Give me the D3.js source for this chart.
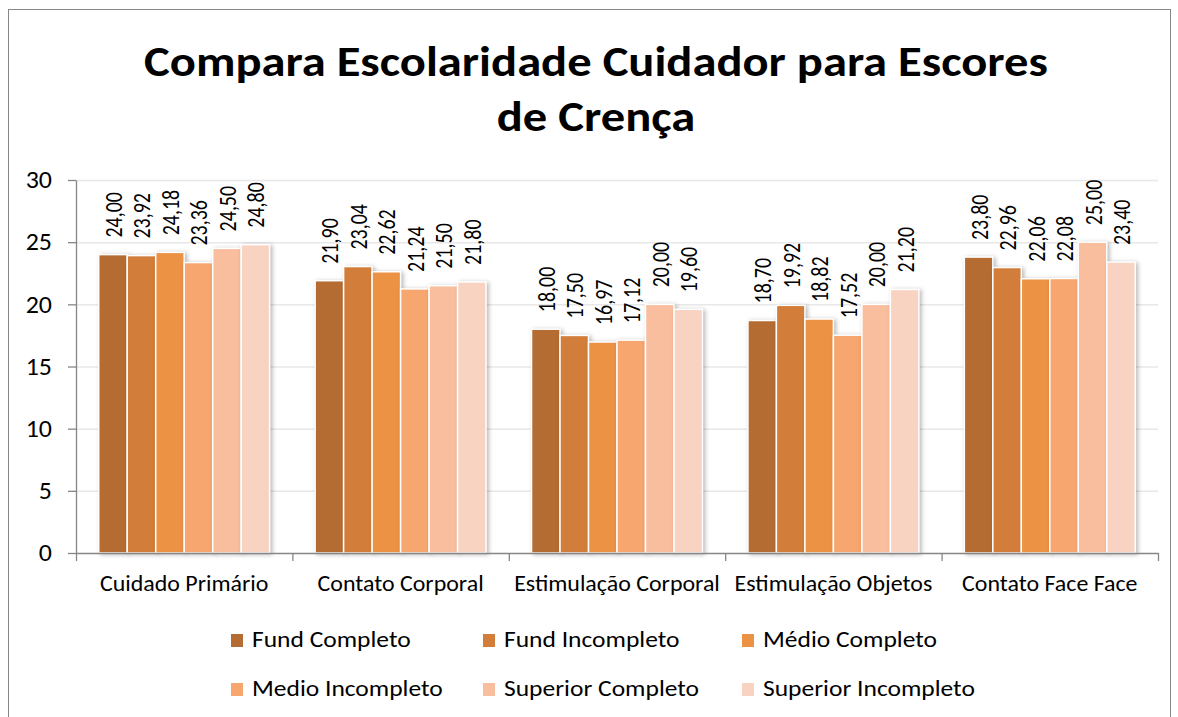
<!DOCTYPE html>
<html>
<head>
<meta charset="utf-8">
<script src="https://cdn.jsdelivr.net/npm/d3@7"></script>
<style>
  body { margin: 0; background: #fff; }
  text { font-family: Carlito, Calibri, "Open Sans", sans-serif; fill: #000; }
</style>
</head>
<body>
<div id="chart"></div>
<script>
const CATEGORIES = ["Cuidado Primário", "Contato Corporal", "Estimulação Corporal", "Estimulação Objetos", "Contato Face Face"];
const SERIES = ["Fund Completo", "Fund Incompleto", "Médio Completo", "Medio Incompleto", "Superior Completo", "Superior Incompleto"];
const FUND_COMPLETO = [24.00, 21.90, 18.00, 18.70, 23.80];
const FUND_INCOMPLETO = [23.92, 23.04, 17.50, 19.92, 22.96];
const MEDIO_COMPLETO = [24.18, 22.62, 16.97, 18.82, 22.06];
const MEDIO_INCOMPLETO = [23.36, 21.24, 17.12, 17.52, 22.08];
const SUPERIOR_COMPLETO = [24.50, 21.50, 20.00, 20.00, 25.00];
const SUPERIOR_INCOMPLETO = [24.80, 21.80, 19.60, 21.20, 23.40];
const Y_TICKS = [0, 5, 10, 15, 20, 25, 30];

const VALUES = [FUND_COMPLETO, FUND_INCOMPLETO, MEDIO_COMPLETO, MEDIO_INCOMPLETO, SUPERIOR_COMPLETO, SUPERIOR_INCOMPLETO];
const COLORS = ["#b46c32", "#d27e3a", "#ec9245", "#f6a66e", "#f8be9e", "#f9d3c1"];

const WIDTH = 1178, HEIGHT = 717;
const PLOT = { LEFT: 76, RIGHT: 1158, TOP: 180, BOTTOM: 553 };
// the reference text looks a little wider than tall
const SX = 1.16;

const SVG = d3.select("#chart").append("svg")
  .attr("width", WIDTH)
  .attr("height", HEIGHT);

// chart frame
SVG.append("rect")
  .attr("x", 8.5).attr("y", 9.5)
  .attr("width", 1162).attr("height", 720)
  .attr("fill", "#fff")
  .attr("stroke", "#868686");

// title
SVG.append("text")
  .attr("text-anchor", "middle")
  .attr("transform", "translate(596,76) scale(1.13,1)")
  .style("font-size", "43px")
  .style("font-weight", "bold")
  .text("Compara Escolaridade Cuidador para Escores");
SVG.append("text")
  .attr("text-anchor", "middle")
  .attr("transform", "translate(596,131) scale(1.13,1)")
  .style("font-size", "43px")
  .style("font-weight", "bold")
  .text("de Crença");

const X0 = d3.scaleBand().domain(CATEGORIES).range([PLOT.LEFT, PLOT.RIGHT]);
const BW = X0.bandwidth();
const X1 = d3.scaleBand().domain(SERIES).range([BW * 0.105, BW * 0.895]);
const Y = d3.scaleLinear().domain([0, 30]).range([PLOT.BOTTOM, PLOT.TOP]);

// gridlines
SVG.append("g")
  .selectAll("line")
  .data(Y_TICKS.slice(1))
  .join("line")
  .attr("x1", PLOT.LEFT).attr("x2", PLOT.RIGHT)
  .attr("y1", d => Y(d) + 0.5).attr("y2", d => Y(d) + 0.5)
  .attr("stroke", "#e8e8e8")
  .attr("stroke-width", 1.5);

// bars
const GROUPS = SVG.append("g")
  .selectAll("g")
  .data(CATEGORIES)
  .join("g")
  .attr("transform", d => "translate(" + X0(d) + ",0)");

const BAR_DATA = (c, i) => SERIES.map((s, j) => ({ series: s, value: VALUES[j][i], color: COLORS[j] }));

GROUPS.selectAll("rect")
  .data(BAR_DATA)
  .join("rect")
  .attr("x", d => X1(d.series))
  .attr("y", d => Y(d.value))
  .attr("width", X1.bandwidth())
  .attr("height", d => PLOT.BOTTOM - Y(d.value))
  .attr("fill", d => d.color)
  .attr("stroke", "#fff")
  .attr("stroke-width", 1.5)
  .style("filter", "drop-shadow(2px 1px 2px rgba(0,0,0,0.28))");

GROUPS.selectAll("text")
  .data(BAR_DATA)
  .join("text")
  .attr("transform", d => "translate(" + (X1(d.series) + X1.bandwidth() / 2 + 9) + "," + (Y(d.value) - 17) + ") scale(1.2,1) rotate(-90)")
  .style("font-size", "20px")
  .text(d => d.value.toFixed(2).replace(".", ","));

// axes
const Y_AXIS = d3.axisLeft(Y).tickValues(Y_TICKS).tickSize(8).tickSizeOuter(0).tickPadding(16);
const Y_G = SVG.append("g").attr("transform", "translate(" + PLOT.LEFT + ",0)").call(Y_AXIS);
Y_G.selectAll("text")
  .style("font-size", "24px")
  .attr("x", -24 / 1.08)
  .attr("transform", "scale(1.08,1)");
Y_G.selectAll("line, path").attr("stroke", "#868686").attr("stroke-width", 1.3);

const X_AXIS = d3.axisBottom(X0).tickSize(0).tickPadding(22).tickSizeOuter(0);
const X_G = SVG.append("g").attr("transform", "translate(0," + PLOT.BOTTOM + ")").call(X_AXIS);
X_G.selectAll("text").style("font-size", "23px").attr("transform", "scale(1.04,1)");
X_G.select("path").attr("stroke", "#868686").attr("stroke-width", 1.3);
X_G.selectAll(".sep")
  .data(d3.range(CATEGORIES.length + 1))
  .join("line")
  .attr("class", "sep")
  .attr("x1", i => PLOT.LEFT + i * BW + 0.5).attr("x2", i => PLOT.LEFT + i * BW + 0.5)
  .attr("y1", 0).attr("y2", 8)
  .attr("stroke", "#868686")
  .attr("stroke-width", 1.3);

// legend
const LEGEND_POS = [[231, 640], [483, 640], [742, 640], [231, 689], [483, 689], [742, 689]];
const LEGEND = SVG.append("g")
  .selectAll("g")
  .data(SERIES)
  .join("g")
  .attr("transform", (d, i) => "translate(" + LEGEND_POS[i][0] + "," + LEGEND_POS[i][1] + ")");
LEGEND.append("rect")
  .attr("x", 0).attr("y", -6)
  .attr("width", 12).attr("height", 13)
  .attr("fill", (d, i) => COLORS[i]);
LEGEND.append("text")
  .attr("transform", "translate(21,7) scale(" + SX + ",1)")
  .style("font-size", "22px")
  .text(d => d);
</script>
</body>
</html>
